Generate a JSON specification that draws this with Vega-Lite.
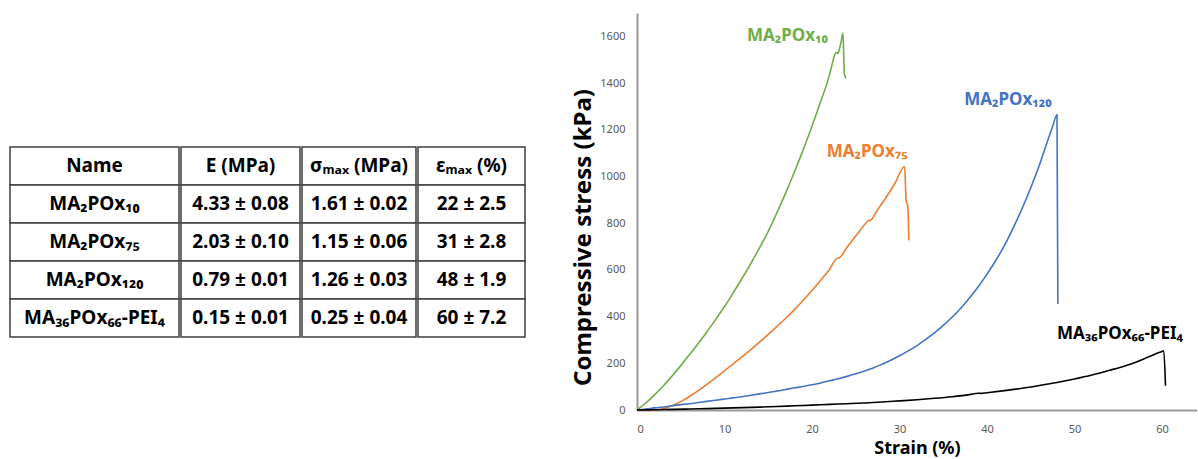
{
  "$schema": "https://vega.github.io/schema/vega-lite/v6.json",
  "background": "white",
  "padding": {"left": 9, "top": 13, "right": 0, "bottom": 0},
  "config": {"view": {"stroke": null}, "font": "Noto Sans"},
  "datasets": {
    "table": [
      {"row": "h", "col": "name", "text": "Name"},
      {"row": "h", "col": "E", "text": "E (MPa)"},
      {"row": "h", "col": "sig", "text": "σₘₐₓ (MPa)"},
      {"row": "h", "col": "eps", "text": "εₘₐₓ (%)"},
      {"row": "r1", "col": "name", "text": "MA₂POx₁₀"},
      {"row": "r1", "col": "E", "text": "4.33 ± 0.08"},
      {"row": "r1", "col": "sig", "text": "1.61 ± 0.02"},
      {"row": "r1", "col": "eps", "text": "22 ± 2.5"},
      {"row": "r2", "col": "name", "text": "MA₂POx₇₅"},
      {"row": "r2", "col": "E", "text": "2.03 ± 0.10"},
      {"row": "r2", "col": "sig", "text": "1.15 ± 0.06"},
      {"row": "r2", "col": "eps", "text": "31 ± 2.8"},
      {"row": "r3", "col": "name", "text": "MA₂POx₁₂₀"},
      {"row": "r3", "col": "E", "text": "0.79 ± 0.01"},
      {"row": "r3", "col": "sig", "text": "1.26 ± 0.03"},
      {"row": "r3", "col": "eps", "text": "48 ± 1.9"},
      {"row": "r4", "col": "name", "text": "MA₃₆POx₆₆-PEI₄"},
      {"row": "r4", "col": "E", "text": "0.15 ± 0.01"},
      {"row": "r4", "col": "sig", "text": "0.25 ± 0.04"},
      {"row": "r4", "col": "eps", "text": "60 ± 7.2"}
    ],
    "curves": [
      {"series": "MA2POx10", "strain": 0, "stress": 0},
      {"series": "MA2POx10", "strain": 1, "stress": 30},
      {"series": "MA2POx10", "strain": 2, "stress": 65},
      {"series": "MA2POx10", "strain": 3, "stress": 103},
      {"series": "MA2POx10", "strain": 4, "stress": 145},
      {"series": "MA2POx10", "strain": 5, "stress": 190},
      {"series": "MA2POx10", "strain": 6, "stress": 237},
      {"series": "MA2POx10", "strain": 7, "stress": 285},
      {"series": "MA2POx10", "strain": 8, "stress": 335},
      {"series": "MA2POx10", "strain": 9, "stress": 388},
      {"series": "MA2POx10", "strain": 10, "stress": 443},
      {"series": "MA2POx10", "strain": 11, "stress": 502},
      {"series": "MA2POx10", "strain": 12, "stress": 563},
      {"series": "MA2POx10", "strain": 13, "stress": 627},
      {"series": "MA2POx10", "strain": 14, "stress": 694},
      {"series": "MA2POx10", "strain": 15, "stress": 765},
      {"series": "MA2POx10", "strain": 16, "stress": 845},
      {"series": "MA2POx10", "strain": 17, "stress": 930},
      {"series": "MA2POx10", "strain": 18, "stress": 1020},
      {"series": "MA2POx10", "strain": 19, "stress": 1115},
      {"series": "MA2POx10", "strain": 20, "stress": 1215},
      {"series": "MA2POx10", "strain": 21, "stress": 1322},
      {"series": "MA2POx10", "strain": 22, "stress": 1435},
      {"series": "MA2POx10", "strain": 22.3, "stress": 1480},
      {"series": "MA2POx10", "strain": 22.6, "stress": 1522},
      {"series": "MA2POx10", "strain": 22.8, "stress": 1532},
      {"series": "MA2POx10", "strain": 22.95, "stress": 1526},
      {"series": "MA2POx10", "strain": 23.15, "stress": 1548},
      {"series": "MA2POx10", "strain": 23.35, "stress": 1582},
      {"series": "MA2POx10", "strain": 23.53, "stress": 1614},
      {"series": "MA2POx10", "strain": 23.62, "stress": 1530},
      {"series": "MA2POx10", "strain": 23.7, "stress": 1440},
      {"series": "MA2POx10", "strain": 23.78, "stress": 1428},
      {"series": "MA2POx10", "strain": 23.9, "stress": 1420},
      {"series": "MA2POx75", "strain": 0, "stress": 0},
      {"series": "MA2POx75", "strain": 2.3, "stress": 0},
      {"series": "MA2POx75", "strain": 3, "stress": 5},
      {"series": "MA2POx75", "strain": 4, "stress": 18},
      {"series": "MA2POx75", "strain": 5, "stress": 36},
      {"series": "MA2POx75", "strain": 6, "stress": 58},
      {"series": "MA2POx75", "strain": 7, "stress": 83},
      {"series": "MA2POx75", "strain": 8, "stress": 110},
      {"series": "MA2POx75", "strain": 9, "stress": 139},
      {"series": "MA2POx75", "strain": 10, "stress": 168},
      {"series": "MA2POx75", "strain": 11, "stress": 198},
      {"series": "MA2POx75", "strain": 12, "stress": 228},
      {"series": "MA2POx75", "strain": 13, "stress": 259},
      {"series": "MA2POx75", "strain": 14, "stress": 291},
      {"series": "MA2POx75", "strain": 15, "stress": 324},
      {"series": "MA2POx75", "strain": 16, "stress": 358},
      {"series": "MA2POx75", "strain": 17, "stress": 393},
      {"series": "MA2POx75", "strain": 18, "stress": 430},
      {"series": "MA2POx75", "strain": 19, "stress": 470},
      {"series": "MA2POx75", "strain": 20, "stress": 512},
      {"series": "MA2POx75", "strain": 21, "stress": 556},
      {"series": "MA2POx75", "strain": 22, "stress": 602},
      {"series": "MA2POx75", "strain": 22.96, "stress": 652},
      {"series": "MA2POx75", "strain": 23.05, "stress": 651},
      {"series": "MA2POx75", "strain": 24, "stress": 697},
      {"series": "MA2POx75", "strain": 25, "stress": 745},
      {"series": "MA2POx75", "strain": 26, "stress": 793},
      {"series": "MA2POx75", "strain": 26.5, "stress": 812},
      {"series": "MA2POx75", "strain": 26.6, "stress": 811},
      {"series": "MA2POx75", "strain": 27.5, "stress": 858},
      {"series": "MA2POx75", "strain": 28.5, "stress": 912},
      {"series": "MA2POx75", "strain": 29.5, "stress": 972},
      {"series": "MA2POx75", "strain": 30.58, "stress": 1043},
      {"series": "MA2POx75", "strain": 30.76, "stress": 897},
      {"series": "MA2POx75", "strain": 30.87, "stress": 883},
      {"series": "MA2POx75", "strain": 30.95, "stress": 870},
      {"series": "MA2POx75", "strain": 31.07, "stress": 726},
      {"series": "MA2POx120", "strain": 0, "stress": 0},
      {"series": "MA2POx120", "strain": 1, "stress": 4},
      {"series": "MA2POx120", "strain": 2, "stress": 9},
      {"series": "MA2POx120", "strain": 3, "stress": 13},
      {"series": "MA2POx120", "strain": 4, "stress": 18},
      {"series": "MA2POx120", "strain": 5, "stress": 23},
      {"series": "MA2POx120", "strain": 6, "stress": 27},
      {"series": "MA2POx120", "strain": 7, "stress": 32},
      {"series": "MA2POx120", "strain": 8, "stress": 37},
      {"series": "MA2POx120", "strain": 9, "stress": 42},
      {"series": "MA2POx120", "strain": 10, "stress": 47},
      {"series": "MA2POx120", "strain": 11, "stress": 52},
      {"series": "MA2POx120", "strain": 12, "stress": 57},
      {"series": "MA2POx120", "strain": 13, "stress": 63},
      {"series": "MA2POx120", "strain": 14, "stress": 69},
      {"series": "MA2POx120", "strain": 15, "stress": 75},
      {"series": "MA2POx120", "strain": 16, "stress": 81},
      {"series": "MA2POx120", "strain": 17, "stress": 88},
      {"series": "MA2POx120", "strain": 18, "stress": 95},
      {"series": "MA2POx120", "strain": 19, "stress": 101},
      {"series": "MA2POx120", "strain": 20, "stress": 108},
      {"series": "MA2POx120", "strain": 21, "stress": 116},
      {"series": "MA2POx120", "strain": 22, "stress": 125},
      {"series": "MA2POx120", "strain": 23, "stress": 134},
      {"series": "MA2POx120", "strain": 24, "stress": 144},
      {"series": "MA2POx120", "strain": 25, "stress": 155},
      {"series": "MA2POx120", "strain": 26, "stress": 167},
      {"series": "MA2POx120", "strain": 27, "stress": 180},
      {"series": "MA2POx120", "strain": 28, "stress": 196},
      {"series": "MA2POx120", "strain": 29, "stress": 213},
      {"series": "MA2POx120", "strain": 30, "stress": 232},
      {"series": "MA2POx120", "strain": 31, "stress": 253},
      {"series": "MA2POx120", "strain": 32, "stress": 276},
      {"series": "MA2POx120", "strain": 33, "stress": 302},
      {"series": "MA2POx120", "strain": 34, "stress": 330},
      {"series": "MA2POx120", "strain": 35, "stress": 362},
      {"series": "MA2POx120", "strain": 36, "stress": 397},
      {"series": "MA2POx120", "strain": 37, "stress": 436},
      {"series": "MA2POx120", "strain": 38, "stress": 480},
      {"series": "MA2POx120", "strain": 39, "stress": 528},
      {"series": "MA2POx120", "strain": 40, "stress": 582},
      {"series": "MA2POx120", "strain": 41, "stress": 640},
      {"series": "MA2POx120", "strain": 42, "stress": 705},
      {"series": "MA2POx120", "strain": 43, "stress": 780},
      {"series": "MA2POx120", "strain": 44, "stress": 862},
      {"series": "MA2POx120", "strain": 45, "stress": 952},
      {"series": "MA2POx120", "strain": 46, "stress": 1050},
      {"series": "MA2POx120", "strain": 46.5, "stress": 1105},
      {"series": "MA2POx120", "strain": 47, "stress": 1160},
      {"series": "MA2POx120", "strain": 47.5, "stress": 1214},
      {"series": "MA2POx120", "strain": 48.0, "stress": 1264},
      {"series": "MA2POx120", "strain": 48.1, "stress": 454},
      {"series": "MA36POx66-PEI4", "strain": 0, "stress": 0},
      {"series": "MA36POx66-PEI4", "strain": 2, "stress": 1},
      {"series": "MA36POx66-PEI4", "strain": 4, "stress": 2.5},
      {"series": "MA36POx66-PEI4", "strain": 6, "stress": 4},
      {"series": "MA36POx66-PEI4", "strain": 8, "stress": 6},
      {"series": "MA36POx66-PEI4", "strain": 10, "stress": 8},
      {"series": "MA36POx66-PEI4", "strain": 12, "stress": 10},
      {"series": "MA36POx66-PEI4", "strain": 14, "stress": 12.5},
      {"series": "MA36POx66-PEI4", "strain": 16, "stress": 15},
      {"series": "MA36POx66-PEI4", "strain": 18, "stress": 18},
      {"series": "MA36POx66-PEI4", "strain": 20, "stress": 21},
      {"series": "MA36POx66-PEI4", "strain": 22, "stress": 24},
      {"series": "MA36POx66-PEI4", "strain": 24, "stress": 27},
      {"series": "MA36POx66-PEI4", "strain": 26, "stress": 30},
      {"series": "MA36POx66-PEI4", "strain": 28, "stress": 34},
      {"series": "MA36POx66-PEI4", "strain": 30, "stress": 39},
      {"series": "MA36POx66-PEI4", "strain": 32, "stress": 44},
      {"series": "MA36POx66-PEI4", "strain": 34, "stress": 50},
      {"series": "MA36POx66-PEI4", "strain": 36, "stress": 57},
      {"series": "MA36POx66-PEI4", "strain": 38, "stress": 66},
      {"series": "MA36POx66-PEI4", "strain": 39, "stress": 72},
      {"series": "MA36POx66-PEI4", "strain": 39.3, "stress": 71},
      {"series": "MA36POx66-PEI4", "strain": 40, "stress": 74},
      {"series": "MA36POx66-PEI4", "strain": 42, "stress": 83},
      {"series": "MA36POx66-PEI4", "strain": 44, "stress": 93},
      {"series": "MA36POx66-PEI4", "strain": 46, "stress": 105},
      {"series": "MA36POx66-PEI4", "strain": 48, "stress": 118},
      {"series": "MA36POx66-PEI4", "strain": 50, "stress": 133},
      {"series": "MA36POx66-PEI4", "strain": 52, "stress": 150},
      {"series": "MA36POx66-PEI4", "strain": 54, "stress": 170},
      {"series": "MA36POx66-PEI4", "strain": 56, "stress": 192},
      {"series": "MA36POx66-PEI4", "strain": 57, "stress": 205},
      {"series": "MA36POx66-PEI4", "strain": 58, "stress": 220},
      {"series": "MA36POx66-PEI4", "strain": 59, "stress": 236},
      {"series": "MA36POx66-PEI4", "strain": 60, "stress": 251},
      {"series": "MA36POx66-PEI4", "strain": 60.2, "stress": 254},
      {"series": "MA36POx66-PEI4", "strain": 60.4, "stress": 104}
    ],
    "labels": [
      {"series": "MA2POx10", "label": "MA₂POx₁₀", "strain": 17.2, "stress": 1600},
      {"series": "MA2POx75", "label": "MA₂POx₇₅", "strain": 26.3, "stress": 1103},
      {"series": "MA2POx120", "label": "MA₂POx₁₂₀", "strain": 42.4, "stress": 1326},
      {"series": "MA36POx66-PEI4", "label": "MA₃₆POx₆₆-PEI₄", "strain": 55.2, "stress": 327}
    ]
  },
  "spacing": 45,
  "hconcat": [
    {
      "spacing": 0,
      "hconcat": [
        {
          "width": 169, "height": 397,
          "data": {"name": "table"},
          "transform": [{"filter": "datum.col === 'name'"}],
          "encoding": {"y": {"field": "row", "type": "nominal", "sort": null, "scale": {"domain": ["h", "r1", "r2", "r3", "r4"], "range": [134, 324], "paddingInner": 0, "paddingOuter": 0}, "axis": null}},
          "layer": [
            {"mark": {"type": "rect", "fill": "white", "stroke": "#3f3f3f", "strokeWidth": 1.5}, "encoding": {"x": {"value": 0}, "x2": {"value": "width"}}},
            {"mark": {"type": "text", "font": "Noto Sans", "fontSize": 19, "fontWeight": "bold", "color": "black"}, "encoding": {"text": {"field": "text"}}}
          ]
        },
        {
          "width": 119, "height": 397,
          "data": {"name": "table"},
          "transform": [{"filter": "datum.col === 'E'"}],
          "encoding": {"y": {"field": "row", "type": "nominal", "sort": null, "scale": {"domain": ["h", "r1", "r2", "r3", "r4"], "range": [134, 324], "paddingInner": 0, "paddingOuter": 0}, "axis": null}},
          "layer": [
            {"mark": {"type": "rect", "fill": "white", "stroke": "#3f3f3f", "strokeWidth": 1.5}, "encoding": {"x": {"value": 0}, "x2": {"value": "width"}}},
            {"mark": {"type": "text", "font": "Noto Sans", "fontSize": 19, "fontWeight": "bold", "color": "black"}, "encoding": {"text": {"field": "text"}}}
          ]
        },
        {
          "width": 114, "height": 397,
          "data": {"name": "table"},
          "transform": [{"filter": "datum.col === 'sig'"}],
          "encoding": {"y": {"field": "row", "type": "nominal", "sort": null, "scale": {"domain": ["h", "r1", "r2", "r3", "r4"], "range": [134, 324], "paddingInner": 0, "paddingOuter": 0}, "axis": null}},
          "layer": [
            {"mark": {"type": "rect", "fill": "white", "stroke": "#3f3f3f", "strokeWidth": 1.5}, "encoding": {"x": {"value": 0}, "x2": {"value": "width"}}},
            {"mark": {"type": "text", "font": "Noto Sans", "fontSize": 19, "fontWeight": "bold", "color": "black"}, "encoding": {"text": {"field": "text"}}}
          ]
        },
        {
          "width": 107, "height": 397,
          "data": {"name": "table"},
          "transform": [{"filter": "datum.col === 'eps'"}],
          "encoding": {"y": {"field": "row", "type": "nominal", "sort": null, "scale": {"domain": ["h", "r1", "r2", "r3", "r4"], "range": [134, 324], "paddingInner": 0, "paddingOuter": 0}, "axis": null}},
          "layer": [
            {"mark": {"type": "rect", "fill": "white", "stroke": "#3f3f3f", "strokeWidth": 1.5}, "encoding": {"x": {"value": 0}, "x2": {"value": "width"}}},
            {"mark": {"type": "text", "font": "Noto Sans", "fontSize": 19, "fontWeight": "bold", "color": "black"}, "encoding": {"text": {"field": "text"}}}
          ]
        }
      ]
    },
    {
      "width": 560, "height": 397,
      "encoding": {
        "x": {"field": "strain", "type": "quantitative", "scale": {"domain": [0, 64], "nice": false},
          "axis": {"title": "Strain (%)", "values": [0, 10, 20, 30, 40, 50, 60], "format": "d", "grid": false, "ticks": false, "domainColor": "#999999", "domainWidth": 2, "labelFontSize": 11, "labelColor": "#595959", "labelPadding": 13, "titleFontSize": 18, "titleFontWeight": "bold", "titleColor": "black", "titlePadding": 5}},
        "y": {"field": "stress", "type": "quantitative", "scale": {"domain": [0, 1700], "nice": false},
          "axis": {"title": "Compressive stress (kPa)", "values": [0, 200, 400, 600, 800, 1000, 1200, 1400, 1600], "format": "d", "grid": false, "ticks": false, "domainColor": "#999999", "domainWidth": 2, "labelFontSize": 11, "labelColor": "#595959", "labelPadding": 12, "titleFontSize": 24, "titleFontWeight": "bold", "titleColor": "black", "titlePadding": 4, "titleY": 224}},
        "color": {"field": "series", "type": "nominal", "legend": null,
          "scale": {"domain": ["MA2POx10", "MA2POx75", "MA2POx120", "MA36POx66-PEI4"], "range": ["#70AD47", "#ED7D31", "#4472C4", "#000000"]}}
      },
      "layer": [
        {"data": {"name": "curves"}, "mark": {"type": "line", "strokeWidth": 1.6, "interpolate": "monotone"}},
        {"data": {"name": "labels"}, "mark": {"type": "text", "font": "Noto Sans", "fontSize": 17, "fontWeight": "bold"}, "encoding": {"text": {"field": "label"}}}
      ]
    }
  ]
}
